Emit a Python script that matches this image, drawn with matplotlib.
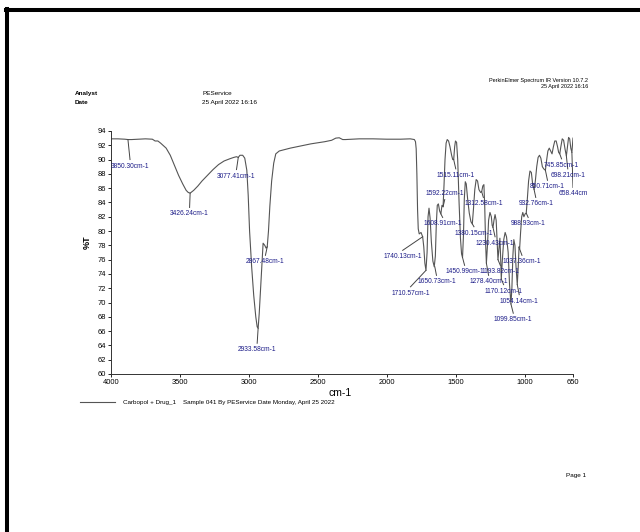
import numpy as np
import matplotlib
matplotlib.use('Agg')
import matplotlib.pyplot as plt
from matplotlib.lines import Line2D

plt.rcParams['font.family'] = ['Liberation Sans', 'DejaVu Sans']

# spectrum (wavenumber, %T)
wavenumber = [4000, 3950, 3900, 3877, 3850, 3800, 3750, 3700, 3680, 3660, 3640, 3600, 3570, 3540,
              3510, 3480, 3455, 3440, 3426, 3400, 3370, 3340, 3300, 3260, 3220, 3180, 3140, 3110,
              3090, 3077, 3065, 3045, 3030, 3015, 3005, 2995, 2980, 2965, 2950, 2940, 2933, 2925,
              2915, 2905, 2897, 2885, 2875, 2867, 2858, 2848, 2835, 2820, 2805, 2780, 2740, 2700,
              2650, 2600, 2550, 2500, 2450, 2400, 2370, 2345, 2320, 2300, 2250, 2200, 2100, 2000,
              1900, 1830, 1800, 1792, 1787, 1782, 1777, 1772, 1765, 1752, 1740, 1732, 1724, 1716,
              1708, 1701, 1694, 1686, 1677, 1666, 1656, 1648, 1641, 1634, 1626, 1617, 1608, 1600,
              1592, 1585, 1578, 1570, 1562, 1552, 1542, 1530, 1522, 1515, 1508, 1502, 1494, 1486,
              1476, 1466, 1458, 1451, 1444, 1438, 1431, 1424, 1414, 1402, 1390, 1380, 1372, 1362,
              1352, 1342, 1332, 1320, 1312, 1304, 1296, 1290, 1284, 1278, 1270, 1262, 1252, 1242,
              1236, 1230, 1223, 1215, 1207, 1200, 1194, 1187, 1180, 1175, 1170, 1162, 1152, 1142,
              1132, 1120, 1110, 1100, 1093, 1086, 1079, 1071, 1063, 1054, 1047, 1041, 1037, 1030,
              1022, 1014, 1006, 997, 989, 981, 972, 962, 952, 942, 932, 923, 913, 903, 893, 883,
              872, 862, 850, 842, 832, 822, 812, 802, 792, 782, 772, 762, 754, 746, 738, 728, 718,
              708, 698, 690, 682, 674, 666, 658, 653, 650]
transmittance = [92.9, 92.9, 92.85, 92.8, 92.8, 92.85, 92.9, 92.85, 92.6, 92.6, 92.3, 91.6, 90.6, 89.2,
                 87.8, 86.6, 85.7, 85.4, 85.3, 85.7, 86.3, 87.0, 87.8, 88.6, 89.3, 89.8, 90.1, 90.3,
                 90.4, 90.3, 90.6, 90.6, 90.2, 88.5, 85.0, 80.0, 75.0, 71.0, 68.0, 66.6, 66.4, 68.5,
                 72.0, 75.5, 78.3, 78.0, 77.6, 77.8, 80.0, 83.5, 87.0, 89.5, 90.8, 91.2, 91.4, 91.6,
                 91.8, 92.0, 92.2, 92.35, 92.5, 92.7, 93.0, 93.05, 92.8, 92.8, 92.85, 92.9, 92.9, 92.85,
                 92.85, 92.9, 92.8, 92.5, 91.5, 88.0, 83.0, 80.3, 79.6, 79.8, 79.2, 77.8, 75.5, 74.5,
                 77.0, 82.0, 83.2, 81.8, 78.5, 75.8, 75.0, 76.5, 81.0, 83.6, 83.8, 82.8, 82.4, 83.6,
                 83.4, 86.5, 90.0, 92.3, 92.8, 92.6, 91.8, 90.6, 90.0, 90.0, 91.8, 92.6, 92.4, 90.0,
                 84.0, 79.0, 76.8, 76.3, 79.5, 84.5, 86.9, 86.6, 84.5, 82.5, 81.3, 81.0, 83.0, 85.8,
                 87.2, 87.0, 85.8, 85.4, 85.5, 86.3, 86.5, 83.5, 78.5, 75.5, 78.0, 81.5, 82.6, 82.0,
                 80.8, 80.5, 81.5, 82.3, 81.5, 78.5, 76.0, 77.5, 79.0, 76.5, 73.3, 76.0, 78.8, 79.8,
                 79.2, 77.0, 72.5, 69.8, 72.0, 76.5, 78.8, 78.0, 75.0, 72.5, 75.0, 77.8, 77.5, 79.8,
                 82.0, 82.6, 82.0, 82.4, 82.5, 84.5, 87.0, 88.4, 88.2, 86.5, 85.8, 87.0, 89.0, 90.3,
                 90.6, 90.2, 89.0, 88.7, 88.5, 89.8, 91.2, 91.6, 91.2, 90.8, 91.8, 92.6, 92.6, 91.8,
                 91.0, 90.8, 91.8, 92.9, 92.7, 91.5, 90.5, 91.8, 93.1, 92.9, 91.6, 91.0, 92.2, 93.0]

# peak labels: text, peak wavenumber, %T on curve, label centre wavenumber, label %T
peak_text = ['3850.30cm-1', '3426.24cm-1', '3077.41cm-1', '2867.48cm-1', '2933.58cm-1',
             '1740.13cm-1', '1710.57cm-1', '1650.73cm-1', '1608.91cm-1', '1592.22cm-1',
             '1515.11cm-1', '1312.58cm-1', '1380.15cm-1', '1230.43cm-1', '1450.99cm-1',
             '1193.82cm-1', '1278.40cm-1', '1170.12cm-1', '1054.14cm-1', '1099.85cm-1',
             '1037.36cm-1', '988.93cm-1', '932.76cm-1', '850.71cm-1', '658.44cm',
             '698.21cm-1', '745.85cm-1']
peak_wn = [3877, 3426, 3077, 2867, 2933, 1740, 1716, 1652, 1608, 1592, 1515, 1312, 1380, 1230,
           1451, 1194, 1278, 1170, 1054, 1100, 1037, 989, 932, 850, 658, 698, 746]
peak_t = [92.8, 85.3, 90.3, 77.8, 66.4, 79.2, 74.5, 75.0, 82.4, 83.4, 90.0, 85.5, 81.0, 80.5,
          76.3, 76.0, 75.5, 73.3, 72.5, 69.8, 77.5, 82.5, 85.8, 88.5, 91.0, 90.5, 90.8]
label_wn = [3862, 3430, 3090, 2880, 2940, 1885, 1828, 1640, 1595, 1580, 1500, 1300, 1368, 1215,
            1436, 1177, 1262, 1153, 1040, 1083, 1020, 975, 920, 835, 650, 688, 733]
label_t = [89.1, 82.4, 87.7, 75.7, 63.4, 76.4, 71.3, 72.9, 81.0, 85.3, 87.8, 83.8, 79.7, 78.3,
           74.3, 74.3, 72.9, 71.6, 70.2, 67.6, 75.7, 81.0, 83.8, 86.2, 85.2, 87.8, 89.2]

fig = plt.figure(figsize=(6.4, 5.32), dpi=100)
ax = fig.add_axes([0.1734, 0.297, 0.7219, 0.4568])

ax.plot(wavenumber, transmittance, color='#555555', lw=0.8)

for txt, pw, pt, lw_, lt in zip(peak_text, peak_wn, peak_t, label_wn, label_t):
    end = lt + 0.9 if lt < pt else lt - 0.9
    ax.plot([pw, lw_], [pt, end], color='#444444', lw=0.7)
    ax.text(lw_, lt, txt, ha='center', va='center', fontsize=4.8, color='#1c1c88')

ax.set_xlim(4000, 650)
ax.set_ylim(60, 94)
ax.set_xticks([4000, 3500, 3000, 2500, 2000, 1500, 1000, 650])
ax.set_yticks(np.arange(60, 95, 2))
ax.tick_params(labelsize=5.4, length=2.5, width=0.6, pad=1)
for s in ['top', 'right']:
    ax.spines[s].set_visible(False)
for s in ['left', 'bottom']:
    ax.spines[s].set_linewidth(0.7)
    ax.spines[s].set_color('#333333')
ax.set_facecolor('none')

# header texts
fig.text(0.117, 0.825, 'Analyst', fontsize=4.6, va='center', fontweight='bold')
fig.text(0.117, 0.807, 'Date', fontsize=4.6, va='center', fontweight='bold')
fig.text(0.316, 0.825, 'PEService', fontsize=4.6, va='center')
fig.text(0.316, 0.807, '25 April 2022 16:16', fontsize=4.6, va='center')
fig.text(0.919, 0.849, 'PerkinElmer Spectrum IR Version 10.7.2', fontsize=4.0, ha='right', va='center')
fig.text(0.919, 0.837, '25 April 2022 16:16', fontsize=4.0, ha='right', va='center')

fig.text(0.136, 0.545, '%T', fontsize=6.5, rotation=90, ha='center', va='center', fontweight='bold')
fig.text(0.514, 0.262, 'cm-1', fontsize=7.5, ha='left', va='center')

# legend line below the plot
fig.add_artist(Line2D([0.125, 0.18], [0.244, 0.244], color='#555555', lw=0.8))
fig.text(0.192, 0.244, 'Carbopol + Drug_1', fontsize=4.5, va='center')
fig.text(0.286, 0.244, 'Sample 041 By PEService Date Monday, April 25 2022', fontsize=4.5, va='center')

fig.text(0.885, 0.107, 'Page 1', fontsize=4.6, va='center')

# page border (left and top edges of the scan)
fig.add_artist(Line2D([0.0117, 0.0117], [0.0, 0.983], color='black', lw=2.9))
fig.add_artist(Line2D([0.0095, 1.0], [0.981, 0.981], color='black', lw=2.9))

fig.savefig('out.png', dpi=100, facecolor='white')
